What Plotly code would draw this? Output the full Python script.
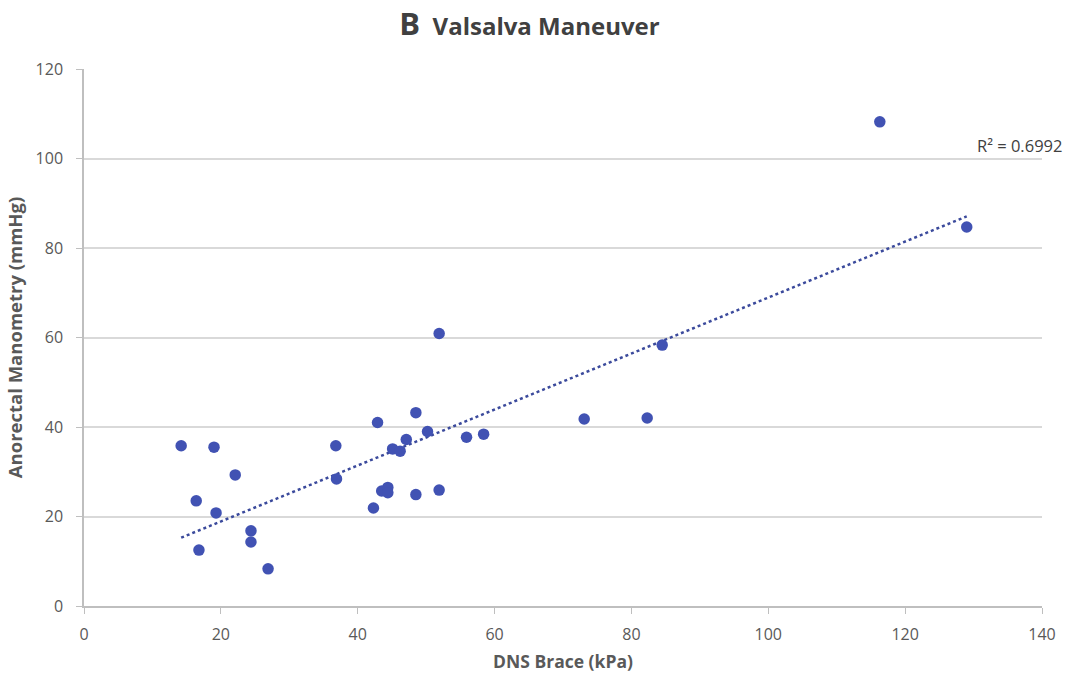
import numpy as np
import plotly.graph_objects as go

dns_brace = [14.2, 16.4, 16.8, 19.0, 19.3, 22.1, 24.4, 24.4, 26.9, 36.8, 36.9,
             42.9, 42.3, 43.5, 44.4, 44.4, 45.1, 46.2, 47.1, 48.5, 48.5, 50.2,
             51.9, 51.9, 55.9, 58.4, 73.1, 82.3, 84.5, 116.3, 129.0]
manometry = [35.8, 23.5, 12.5, 35.5, 20.8, 29.3, 16.8, 14.3, 8.3, 35.8, 28.4,
             41.0, 21.9, 25.7, 26.5, 25.3, 35.1, 34.6, 37.2, 43.2, 24.9, 39.0,
             25.9, 60.9, 37.7, 38.4, 41.8, 42.0, 58.3, 108.2, 84.7]
x_ticks = [0, 20, 40, 60, 80, 100, 120, 140]
y_ticks = [0, 20, 40, 60, 80, 100, 120]
r2_label = "R² = 0.6992"

x = np.array(dns_brace)
y = np.array(manometry)
slope, intercept = np.polyfit(x, y, 1)
xf = np.array([x.min(), x.max()])
yf = slope * xf + intercept

FONT = "Open Sans, Liberation Sans, sans-serif"

fig = go.Figure()
fig.add_trace(go.Scatter(
    x=xf, y=yf, mode="lines",
    line=dict(color="#3b4a9c", width=2.5, dash="dot"),
    hoverinfo="skip", showlegend=False))
fig.add_trace(go.Scatter(
    x=dns_brace, y=manometry, mode="markers",
    marker=dict(color="#4152b3", size=11.5, line=dict(width=0)),
    showlegend=False))

fig.add_annotation(x=136.7, y=103.0, text=r2_label, showarrow=False,
                   font=dict(family=FONT, size=16.5, color="#404040"))

fig.update_layout(
    width=1069, height=677,
    margin=dict(l=84, r=27, t=69, b=71, autoexpand=False),
    paper_bgcolor="white", plot_bgcolor="white",
    title=dict(
        text="<span style='font-size:31px'>B</span>  Valsalva Maneuver",
        x=0.4953, xanchor="center", y=0.961, yanchor="middle",
        font=dict(family=FONT, size=24, color="#404040", weight="bold")),
    font=dict(family=FONT, color="#595959"),
)
fig.update_xaxes(
    range=[0, 140], tickvals=x_ticks, showgrid=False, zeroline=False,
    showline=True, linecolor="#bfbfbf", linewidth=1.5,
    ticks="outside", ticklen=6, tickcolor="#bfbfbf",
    ticklabelstandoff=7, automargin=False,
    tickfont=dict(size=16, color="#595959"),
    title=dict(text="DNS Brace (kPa)", standoff=12,
               font=dict(size=17.5, color="#595959", weight="bold")))
fig.update_yaxes(
    range=[0, 120], tickvals=y_ticks, showgrid=True, gridcolor="#d9d9d9", gridwidth=1.5,
    zeroline=False, showline=True, linecolor="#bfbfbf", linewidth=1.5,
    ticks="outside", ticklen=6, tickcolor="#bfbfbf",
    ticklabelstandoff=10, automargin=False,
    tickfont=dict(size=16, color="#595959"),
    title=dict(text="Anorectal Manometry (mmHg)", standoff=8,
               font=dict(size=18.5, color="#595959", weight="bold")))

fig.write_html("out.html")
